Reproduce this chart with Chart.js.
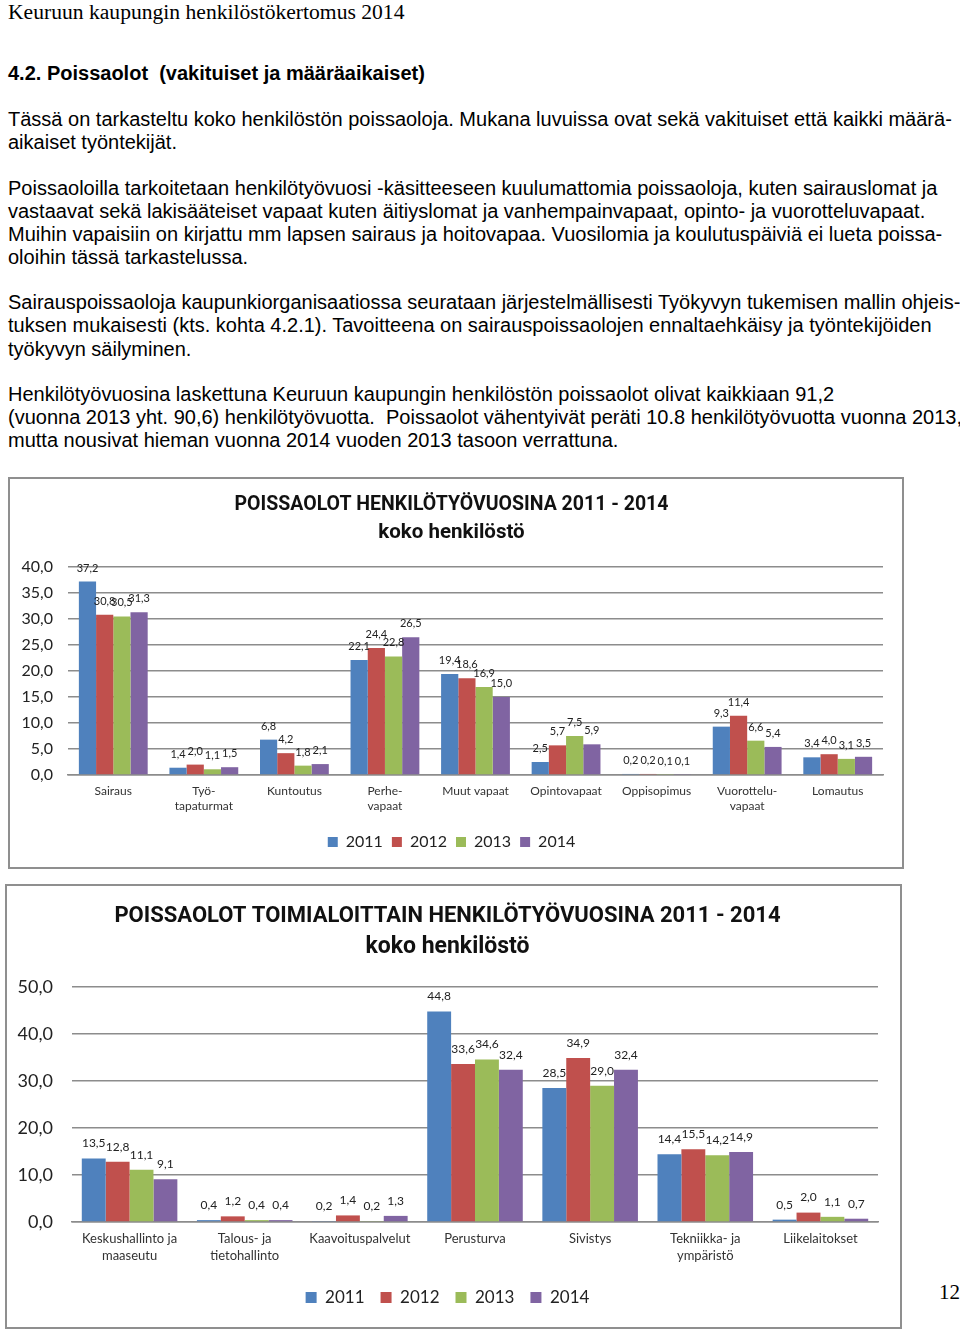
<!DOCTYPE html>
<html><head><meta charset="utf-8">
<script src="https://cdn.jsdelivr.net/npm/chart.js@4.4.1/dist/chart.umd.min.js"></script>
<style>
body{margin:0;background:#fff;width:960px;height:1332px;position:relative;overflow:hidden;font-family:"Liberation Sans",Arial,sans-serif;color:#000}
.l{position:absolute;left:8px;white-space:nowrap;font-size:20px;line-height:23px}
.hd{position:absolute;left:8px;top:0;font-family:"Liberation Serif","Times New Roman",serif;font-size:21.6px;line-height:24px;white-space:nowrap}
.pn{position:absolute;left:939px;top:1280px;font-family:"Liberation Serif","Times New Roman",serif;font-size:21px;line-height:24px}
.box{position:absolute;border:2px solid #8f8f8f;background:#fff}
.box canvas{display:block}
</style></head><body>
<div class="hd">Keuruun kaupungin henkilöstökertomus 2014</div>
<div class="l" style="top:62px;font-weight:bold">4.2. Poissaolot&nbsp; (vakituiset ja määräaikaiset)</div>
<div class="l" style="top:108px">Tässä on tarkasteltu koko henkilöstön poissaoloja. Mukana luvuissa ovat sekä vakituiset että kaikki määrä-</div>
<div class="l" style="top:131px">aikaiset työntekijät.</div>
<div class="l" style="top:177px">Poissaoloilla tarkoitetaan henkilötyövuosi -käsitteeseen kuulumattomia poissaoloja, kuten sairauslomat ja</div>
<div class="l" style="top:200px">vastaavat sekä lakisääteiset vapaat kuten äitiyslomat ja vanhempainvapaat, opinto- ja vuorotteluvapaat.</div>
<div class="l" style="top:223px">Muihin vapaisiin on kirjattu mm lapsen sairaus ja hoitovapaa. Vuosilomia ja koulutuspäiviä ei lueta poissa-</div>
<div class="l" style="top:246px">oloihin tässä tarkastelussa.</div>
<div class="l" style="top:291px">Sairauspoissaoloja kaupunkiorganisaatiossa seurataan järjestelmällisesti Työkyvyn tukemisen mallin ohjeis-</div>
<div class="l" style="top:314px">tuksen mukaisesti (kts. kohta 4.2.1). Tavoitteena on sairauspoissaolojen ennaltaehkäisy ja työntekijöiden</div>
<div class="l" style="top:338px">työkyvyn säilyminen.</div>
<div class="l" style="top:383px">Henkilötyövuosina laskettuna Keuruun kaupungin henkilöstön poissaolot olivat kaikkiaan 91,2</div>
<div class="l" style="top:406px">(vuonna 2013 yht. 90,6) henkilötyövuotta.&nbsp; Poissaolot vähentyivät peräti 10.8 henkilötyövuotta vuonna 2013,</div>
<div class="l" style="top:429px">mutta nousivat hieman vuonna 2014 vuoden 2013 tasoon verrattuna.</div>

<div class="box" style="left:8px;top:477px"><canvas id="c1" width="892" height="388"></canvas></div>
<div class="box" style="left:5px;top:884px"><canvas id="c2" width="893" height="441"></canvas></div>
<div class="pn">12</div>

<script>
// ---- data ----
const years = ["2011", "2012", "2013", "2014"];
const colors = ["#4F81BD", "#C0504D", "#9BBB59", "#8064A2"];

const typeCategories = ["Sairaus", ["Työ-", "tapaturmat"], "Kuntoutus", ["Perhe-", "vapaat"], "Muut vapaat", "Opintovapaat", "Oppisopimus", ["Vuorottelu-", "vapaat"], "Lomautus"];
const type2011 = [37.2, 1.4, 6.8, 22.1, 19.4, 2.5, 0.2, 9.3, 3.4];
const type2012 = [30.8, 2.0, 4.2, 24.4, 18.6, 5.7, 0.2, 11.4, 4.0];
const type2013 = [30.5, 1.1, 1.8, 22.8, 16.9, 7.5, 0.1, 6.6, 3.1];
const type2014 = [31.3, 1.5, 2.1, 26.5, 15.0, 5.9, 0.1, 5.4, 3.5];

const unitCategories = [["Keskushallinto ja", "maaseutu"], ["Talous- ja", "tietohallinto"], "Kaavoituspalvelut", "Perusturva", "Sivistys", ["Tekniikka- ja", "ympäristö"], "Liikelaitokset"];
const unit2011 = [13.5, 0.4, 0.2, 44.8, 28.5, 14.4, 0.5];
const unit2012 = [12.8, 1.2, 1.4, 33.6, 34.9, 15.5, 2.0];
const unit2013 = [11.1, 0.4, 0.2, 34.6, 29.0, 14.2, 1.1];
const unit2014 = [9.1, 0.4, 1.3, 32.4, 32.4, 14.9, 0.7];

const title1 = "POISSAOLOT HENKILÖTYÖVUOSINA 2011 - 2014";
const title2 = "POISSAOLOT TOIMIALOITTAIN HENKILÖTYÖVUOSINA 2011 - 2014";
const subtitle = "koko henkilöstö";

// ---- helpers ----
const FONT = "Lato, 'Open Sans', sans-serif";
const TFONT = "Roboto, 'Open Sans', sans-serif";
const fmt = v => Number(v).toFixed(1).replace('.', ',');

const valueLabels = {
  id: 'valueLabels',
  afterDatasetsDraw(chart, args, o) {
    const ctx = chart.ctx;
    ctx.save();
    ctx.font = o.size + 'px ' + FONT;
    ctx.fillStyle = '#222';
    ctx.textAlign = 'center';
    ctx.textBaseline = 'bottom';
    chart.data.datasets.forEach((ds, i) => {
      chart.getDatasetMeta(i).data.forEach((bar, j) => {
        ctx.fillText(fmt(ds.data[j]), bar.x, bar.y - o.gap);
      });
    });
    ctx.restore();
  }
};

function makeChart(id, cats, series, cfg) {
  return new Chart(document.getElementById(id), {
    type: 'bar',
    data: {
      labels: cats,
      datasets: series.map((d, i) => ({
        label: years[i], data: d, backgroundColor: colors[i],
        categoryPercentage: cfg.catPct, barPercentage: 1.0, borderWidth: 0
      }))
    },
    plugins: [valueLabels],
    options: {
      responsive: false, animation: false, devicePixelRatio: 1,
      layout: { padding: { left: cfg.padL, right: cfg.padR, top: 0, bottom: cfg.padB } },
      plugins: {
        title: { display: true, text: cfg.title, color: '#111',
          font: { family: TFONT, size: cfg.titleSize, weight: 'bold', lineHeight: 1.2 },
          padding: { top: cfg.titleTop, bottom: cfg.titleGap } },
        subtitle: { display: true, text: subtitle, color: '#111',
          font: { family: TFONT, size: cfg.subSize, weight: 'bold', lineHeight: 1.2 },
          padding: { top: 0, bottom: cfg.subGap } },
        legend: { position: 'bottom',
          labels: { boxWidth: cfg.box, boxHeight: cfg.box, padding: cfg.legPad, color: '#222',
            font: { family: FONT, size: cfg.legSize } } },
        tooltip: { enabled: false },
        valueLabels: { size: cfg.valSize, gap: cfg.valGap }
      },
      scales: {
        y: {
          min: 0, max: cfg.max,
          ticks: { stepSize: cfg.step, callback: v => fmt(v), color: '#222', padding: cfg.yPad,
            font: { family: FONT, size: cfg.ySize } },
          grid: { color: '#8c8c8c', lineWidth: 1.5, drawTicks: false },
          border: { display: false },
          afterFit: s => { s.width = cfg.yWidth; }
        },
        x: {
          ticks: { color: '#333', padding: cfg.xPad, maxRotation: 0, autoSkip: false,
            font: { family: FONT, size: cfg.xSize, lineHeight: cfg.xLH } },
          grid: { display: false, drawTicks: false },
          border: { display: true, color: '#8c8c8c', width: 1.5 },
          afterFit: s => { s.height = cfg.xHeight; }
        }
      }
    }
  });
}

makeChart('c1', typeCategories, [type2011, type2012, type2013, type2014], {
  catPct: 0.76, padL: 10, padR: 19, padB: 7,
  title: title1, titleSize: 19.5, subSize: 20.5, titleTop: 14, titleGap: 4, subGap: 22,
  box: 10, legPad: 9, legSize: 16,
  valSize: 11, valGap: 8, max: 40, step: 5, ySize: 16, yPad: 15, yWidth: 48,
  xSize: 12, xLH: 1.3, xPad: 8, xHeight: 50
});

makeChart('c2', unitCategories, [unit2011, unit2012, unit2013, unit2014], {
  catPct: 0.83, padL: 10, padR: 22, padB: 11,
  title: title2, titleSize: 22, subSize: 23, titleTop: 17, titleGap: 4, subGap: 26,
  box: 11, legPad: 16, legSize: 17,
  valSize: 12, valGap: 9, max: 50, step: 10, ySize: 18, yPad: 19, yWidth: 55,
  xSize: 13, xLH: 1.3, xPad: 8, xHeight: 51
});
</script>
</body></html>
